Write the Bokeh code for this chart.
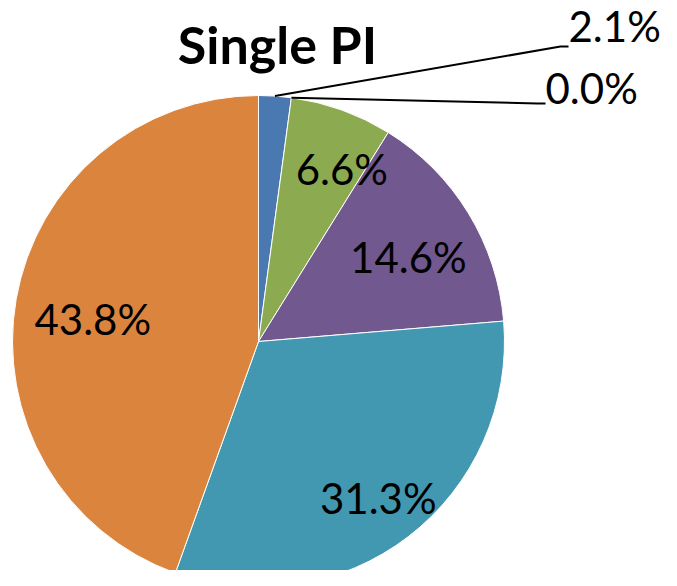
import math
from bokeh.plotting import figure
from bokeh.models import Range1d, ColumnDataSource
from bokeh.core.properties import value
from bokeh.embed import file_html
from bokeh.resources import INLINE

# ---- data ----
categories = ["A", "B", "C", "D", "E", "F"]
values = [2.1, 0.0, 6.6, 14.6, 31.3, 43.8]
labels = ["2.1%", "0.0%", "6.6%", "14.6%", "31.3%", "43.8%"]
colors = ["#4A78B0", "#BE4B48", "#8CAA50", "#71588F", "#4298B0", "#DB843D"]
title = "Single PI"

# ---- layout (image pixel coordinates, y measured from the bottom) ----
W, H = 661, 570
IMG_H = 586
cx, cy = 258, IMG_H - 341
R = 246

p = figure(width=W, height=H, output_backend="svg", toolbar_location=None,
           x_range=Range1d(0, W), y_range=Range1d(IMG_H - H, IMG_H),
           min_border=0, outline_line_color=None)
p.axis.visible = False
p.grid.visible = False
p.background_fill_color = "white"
p.border_fill_color = "white"

total = sum(values)
cum = 0.0
starts, ends, mids, cols = [], [], [], []
for v, c in zip(values, colors):
    a0 = 90 - cum / total * 360
    cum += v
    a1 = 90 - cum / total * 360
    mids.append(math.radians((a0 + a1) / 2))
    if v > 0:
        starts.append(math.radians(a1))
        ends.append(math.radians(a0))
        cols.append(c)

src = ColumnDataSource(dict(start=starts, end=ends, color=cols))
p.wedge(x=cx, y=cy, radius=R, start_angle="start", end_angle="end",
        fill_color="color", line_color="white", line_width=1, source=src)

font = value("Lato")

# inside labels
inside = {2: (0.78, 6), 3: (0.70, 2), 4: (0.80, 0), 5: (0.68, -2)}
for i, (frac, dang) in inside.items():
    ang = mids[i] + math.radians(-dang)
    x = cx + frac * R * math.cos(ang)
    y = cy + frac * R * math.sin(ang)
    p.text(x=[x], y=[y], text=[labels[i]], text_font=font, text_font_size="42px",
           text_align="center", text_baseline="middle", text_color="black")

# outside labels with leader lines
outside = {0: (568, IMG_H - 46, IMG_H - 25), 1: (545, IMG_H - 103, IMG_H - 87)}
for i, (ex, ey, ty) in outside.items():
    ang = mids[i]
    sx = cx + R * math.cos(ang)
    sy = cy + R * math.sin(ang)
    p.line(x=[sx, ex - 8, ex], y=[sy, ey, ey], line_color="black", line_width=2)
    p.text(x=[ex], y=[ty], text=[labels[i]], text_font=font, text_font_size="42px",
           text_align="left", text_baseline="middle", text_color="black")

# title
p.text(x=[277], y=[IMG_H - 43], text=[title], text_font=font, text_font_size="52px",
       text_font_style="bold", text_align="center", text_baseline="middle", text_color="black")

open("out.html", "w").write(file_html(p, INLINE))
